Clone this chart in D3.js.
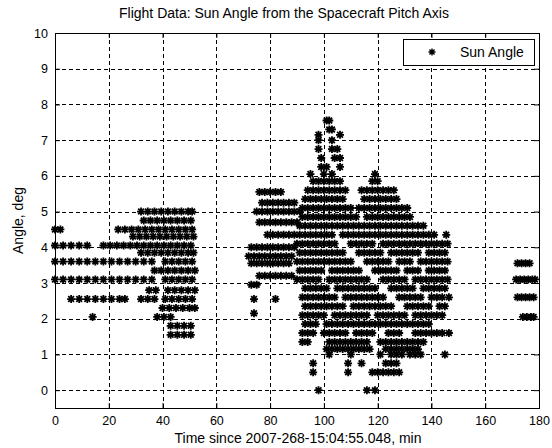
<!DOCTYPE html>
<html>
<head>
<meta charset="utf-8">
<script src="https://cdn.jsdelivr.net/npm/d3@7"></script>
<style>
  body { margin: 0; background: #fff; }
  svg { display: block; }
  text { font-family: "Liberation Sans", Arial, Helvetica, sans-serif; fill: #000; }
</style>
</head>
<body>
<div id="chart"></div>
<script>
"use strict";

// tick labels
var xTicks = [0, 20, 40, 60, 80, 100, 120, 140, 160, 180];
var yTicks = [0, 1, 2, 3, 4, 5, 6, 7, 8, 9, 10];

// each row: [angle in deg, times in min]
var passOne = [
  [5.0, [32, 34.5, 37, 39.5, 42, 44.5, 47, 49.5, 51]],
  [4.75, [33, 35.5, 38, 40.5, 43, 45.5, 48, 50.5]],
  [4.5, [0, 2, 23.5, 26, 28.5, 31, 33.5, 36, 38.5, 41, 43.5, 46, 48.5, 51]],
  [4.3, [29, 31.5, 34, 36.5, 39, 41.5, 44, 46.5, 49, 51.5]],
  [4.05, [0, 3, 6, 9, 12, 18, 20.5, 23, 25.5, 28, 30.5, 33, 35.5, 38, 40.5, 43, 45.5, 48, 50.5]],
  [3.85, [32, 34.5, 37, 39.5, 42, 44.5, 47, 49.5, 51.5]],
  [3.6, [0, 3, 6, 9, 12, 15, 18, 21, 24, 27, 30, 33, 36, 41, 43.5, 46, 48.5, 51]],
  [3.35, [37, 39.5, 42, 44.5, 47, 49.5, 52]],
  [3.1, [0, 3, 6, 9, 12, 15, 18, 21, 24, 27, 30, 33, 36, 41, 43.5, 46, 48.5, 51]],
  [2.8, [35, 37.5, 42, 44.5, 47, 49.5, 52]],
  [2.55, [6, 9, 12, 15, 18, 21, 24, 26, 32, 34.5, 37, 41, 43.5, 46, 48.5, 51]],
  [2.3, [40, 42.5, 45, 47.5, 50, 52]],
  [2.05, [14, 38, 40.5, 43]],
  [1.8, [43, 45.5, 48, 50.5]],
  [1.55, [43, 45.5, 48, 50.5]]
];

var passTwo = [
  [5.55, [76, 78, 80, 82, 84]],
  [5.25, [77, 79, 81, 83, 85, 87, 89]],
  [5.0, [75, 77, 79, 81, 83, 85, 87, 89, 91]],
  [4.7, [76, 78, 80, 82, 84, 86, 88, 90]],
  [4.35, [79, 81, 83, 85, 87, 89]],
  [4.0, [73, 75, 77, 79, 81, 83, 85, 87, 89]],
  [3.75, [72, 74, 76, 78, 80, 82, 84, 86, 88]],
  [3.55, [73, 75, 77, 79, 81, 83, 85, 87]],
  [3.2, [76, 78, 80, 82, 84, 86, 88]],
  [2.95, [73, 75]],
  [2.55, [74, 82]],
  [2.15, [74]]
];

var passThree = [
  [7.55, [101, 102]],
  [7.3, [102, 103]],
  [7.15, [98, 106]],
  [7.0, [98, 103]],
  [6.75, [98, 103, 105]],
  [6.5, [99, 104, 106]],
  [6.25, [99, 101, 106]],
  [6.05, [95, 100, 103, 119]],
  [5.85, [96, 98, 100, 102, 104, 106, 118, 120]],
  [5.6, [94, 96, 98, 100, 102, 104, 106, 108, 114, 116, 118, 120, 122, 124, 126]],
  [5.35, [93, 95, 97, 99, 101, 103, 105, 107, 115, 117, 119, 121, 123, 125, 127]],
  [5.1, [92, 94, 96, 98, 100, 102, 104, 106, 108, 110, 113, 115, 117, 119, 121, 123, 125, 127, 129, 131]],
  [4.85, [92, 94, 96, 98, 100, 102, 104, 106, 108, 110, 112, 116, 118, 120, 122, 124, 126, 128, 130, 132]],
  [4.6, [91, 93, 95, 97, 99, 101, 103, 105, 107, 109, 111, 113, 115, 117, 119, 121, 123, 125, 127, 129, 131, 133, 135, 137]],
  [4.35, [91, 93, 95, 97, 99, 101, 103, 107, 109, 111, 113, 115, 117, 119, 121, 123, 125, 127, 129, 131, 133, 135, 137, 139, 141, 145.5]],
  [4.1, [90, 92, 94, 96, 98, 100, 102, 104, 110, 112, 114, 116, 118, 122, 124, 126, 128, 130, 132, 134, 136, 138, 140, 142, 144, 146]],
  [3.85, [91, 93, 95, 97, 99, 101, 103, 105, 107, 113, 115, 117, 119, 121, 125, 127, 129, 131, 133, 135, 139, 141, 143, 145]],
  [3.6, [90, 92, 94, 96, 98, 100, 102, 104, 106, 108, 110, 116, 118, 120, 122, 124, 128, 130, 132, 136, 138, 140, 142, 144, 146]],
  [3.35, [91, 93, 95, 97, 99, 103, 105, 107, 109, 111, 113, 119, 121, 123, 125, 127, 131, 133, 135, 139, 141, 143, 145]],
  [3.1, [90, 92, 94, 96, 98, 102, 104, 106, 108, 110, 112, 114, 116, 122, 124, 126, 128, 130, 134, 136, 138, 140, 142, 144, 146]],
  [2.85, [93, 95, 97, 99, 101, 105, 107, 109, 111, 113, 115, 117, 119, 125, 127, 129, 131, 133, 137, 139, 141, 143, 145]],
  [2.6, [92, 94, 96, 98, 100, 102, 104, 108, 110, 112, 114, 116, 118, 120, 122, 128, 130, 132, 134, 136, 140, 142, 144, 146.5]],
  [2.35, [93, 95, 97, 99, 101, 103, 105, 107, 111, 113, 115, 117, 119, 121, 123, 125, 131, 133, 135, 137, 139, 143, 145]],
  [2.1, [92, 94, 96, 98, 100, 104, 106, 108, 110, 112, 114, 116, 120, 122, 124, 126, 128, 130, 134, 136, 138, 140, 142, 144]],
  [1.85, [93, 95, 97, 101, 103, 105, 107, 109, 111, 113, 115, 117, 119, 121, 123, 125, 127, 129, 131, 133, 135, 137, 139]],
  [1.6, [92, 94, 96, 100, 102, 104, 106, 108, 112, 114, 116, 118, 124, 126, 128, 134, 136, 138, 140, 142, 144, 146.5]],
  [1.35, [92, 94, 102, 104, 106, 108, 110, 112, 114, 116, 121, 123, 125, 127, 129, 131, 133, 135, 137]],
  [1.15, [101, 103, 105, 107, 109, 111, 113, 115, 117, 123, 125, 127, 129, 131, 133, 135]],
  [1.0, [102, 110, 121, 125, 127, 129, 132, 134, 136, 145]],
  [0.75, [96, 109, 114, 123, 125, 127]],
  [0.5, [96, 109, 118, 120, 122, 124, 126, 128]],
  [0.0, [98, 116, 119]]
];

var passFour = [
  [3.55, [172, 173.5, 175, 176.5]],
  [3.1, [171.5, 173, 174.5, 176, 177.5, 178.5]],
  [2.6, [172, 173.5, 175, 176.5, 178]],
  [2.05, [174, 175.5, 177, 178]]
];

var width = 552, height = 448;
var margin = { left: 55, right: 13, top: 33, bottom: 40 };

var svg = d3.select("#chart").append("svg")
  .attr("width", width)
  .attr("height", height);

var x = d3.scaleLinear().domain([0, 180]).range([margin.left, width - margin.right]);
var y = d3.scaleLinear().domain([-0.5, 10]).range([height - margin.bottom, margin.top]);

var x0 = x.range()[0], x1 = x.range()[1];
var y0 = y.range()[0], y1 = y.range()[1];

// flatten rows into points
var points = [];
[passOne, passTwo, passThree, passFour].forEach(function(pass) {
  pass.forEach(function(row) {
    row[1].forEach(function(t) {
      points.push({ t: t, angle: row[0] });
    });
  });
});

// grid
var grid = svg.append("g").attr("class", "grid")
  .attr("stroke", "#000")
  .attr("stroke-width", 1)
  .attr("stroke-dasharray", "4,3")
  .attr("shape-rendering", "crispEdges");

grid.selectAll(".vg")
  .data(xTicks.slice(1, -1))
  .enter().append("line")
  .attr("x1", function(d) { return Math.round(x(d)) + 0.5; })
  .attr("x2", function(d) { return Math.round(x(d)) + 0.5; })
  .attr("y1", y1).attr("y2", y0);

grid.selectAll(".hg")
  .data(yTicks)
  .enter().append("line")
  .attr("y1", function(d) { return Math.round(y(d)) + 0.5; })
  .attr("y2", function(d) { return Math.round(y(d)) + 0.5; })
  .attr("x1", x0).attr("x2", x1);

// axes, ticks inside on all four sides
var tickLen = 5;
svg.append("g")
  .attr("transform", "translate(0," + y0 + ")")
  .call(d3.axisBottom(x).tickValues(xTicks).tickSize(-tickLen).tickPadding(8))
  .call(function(g) { g.select(".domain").remove(); });

svg.append("g")
  .attr("transform", "translate(0," + y1 + ")")
  .call(d3.axisTop(x).tickValues(xTicks).tickSize(-tickLen).tickFormat(""))
  .call(function(g) { g.select(".domain").remove(); });

svg.append("g")
  .attr("transform", "translate(" + x0 + ",0)")
  .call(d3.axisLeft(y).tickValues(yTicks).tickSize(-tickLen).tickPadding(7))
  .call(function(g) { g.select(".domain").remove(); });

svg.append("g")
  .attr("transform", "translate(" + x1 + ",0)")
  .call(d3.axisRight(y).tickValues(yTicks).tickSize(-tickLen).tickFormat(""))
  .call(function(g) { g.select(".domain").remove(); });

svg.selectAll(".tick text")
  .attr("font-size", 12.5)
  .attr("font-family", "Liberation Sans, Arial, sans-serif");

// box
svg.append("rect")
  .attr("x", x0 + 0.5).attr("y", y1 + 0.5)
  .attr("width", x1 - x0).attr("height", y0 - y1)
  .attr("fill", "none")
  .attr("stroke", "#000")
  .attr("shape-rendering", "crispEdges");

// asterisk marker
function star(r) {
  var d = r * 0.72;
  return "M" + (-r) + ",0H" + r + "M0," + (-r) + "V" + r +
    "M" + (-d) + "," + (-d) + "L" + d + "," + d +
    "M" + (-d) + "," + d + "L" + d + "," + (-d);
}

svg.append("g").attr("class", "points")
  .selectAll("path")
  .data(points)
  .enter().append("path")
  .attr("d", star(4))
  .attr("transform", function(d) { return "translate(" + x(d.t) + "," + y(d.angle) + ")"; })
  .attr("fill", "none")
  .attr("stroke", "#000")
  .attr("stroke-width", 1.8);

// title and labels
svg.append("text")
  .attr("x", 284).attr("y", 18)
  .attr("text-anchor", "middle")
  .attr("font-size", 14)
  .text("Flight Data: Sun Angle from the Spacecraft Pitch Axis");

svg.append("text")
  .attr("x", 298).attr("y", 443)
  .attr("text-anchor", "middle")
  .attr("font-size", 14)
  .text("Time since 2007-268-15:04:55.048, min");

svg.append("text")
  .attr("transform", "translate(23," + ((y0 + y1) / 2) + ") rotate(-90)")
  .attr("text-anchor", "middle")
  .attr("font-size", 14)
  .text("Angle, deg");

// legend
var legend = svg.append("g").attr("transform", "translate(403,39)");
legend.append("rect")
  .attr("x", 0.5).attr("y", 0.5)
  .attr("width", 131).attr("height", 26)
  .attr("fill", "#fff")
  .attr("stroke", "#000")
  .attr("shape-rendering", "crispEdges");
legend.append("path")
  .attr("d", star(3.5))
  .attr("transform", "translate(29,13)")
  .attr("fill", "none")
  .attr("stroke", "#000")
  .attr("stroke-width", 1.4);
legend.append("text")
  .attr("x", 57).attr("y", 18)
  .attr("font-size", 14)
  .text("Sun Angle");
</script>
</body>
</html>
